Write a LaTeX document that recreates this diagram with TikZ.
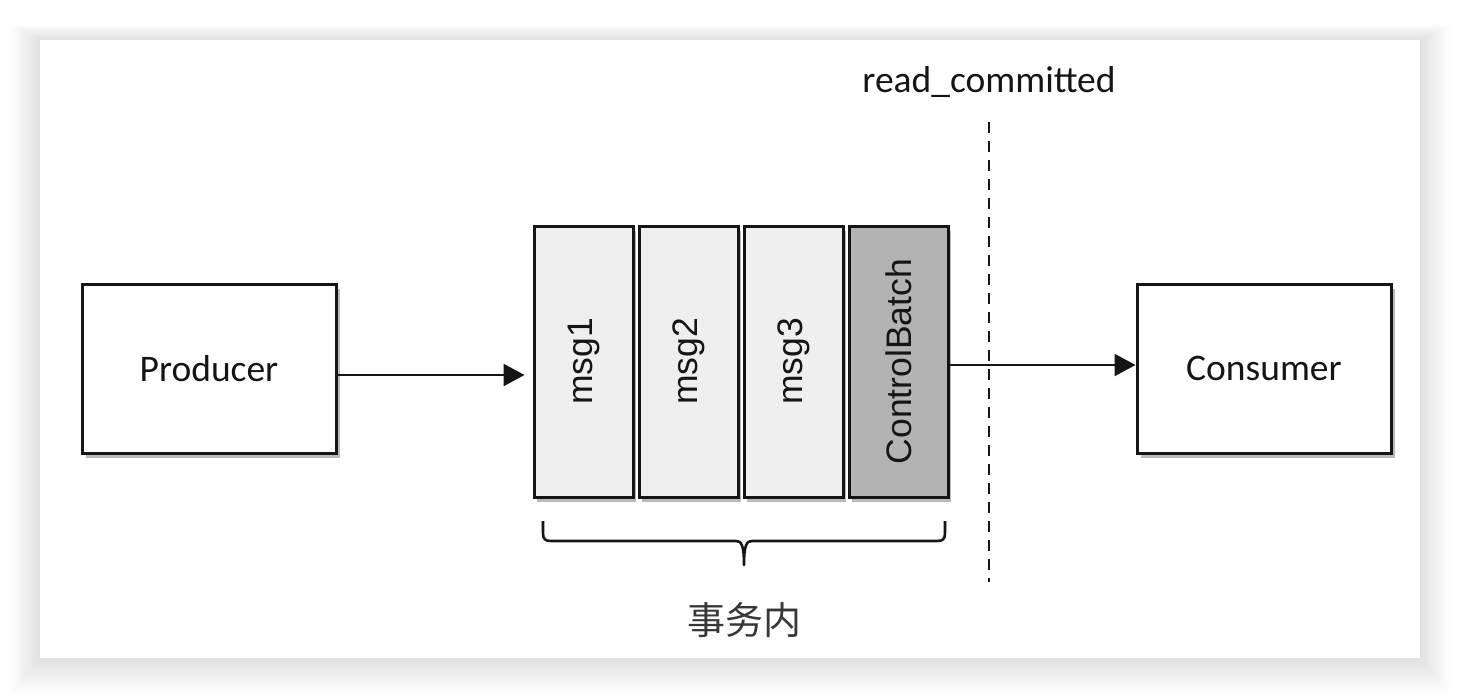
\documentclass[tikz,border=0pt]{standalone}
\usepackage{fontspec}
\newfontfamily\calfont{Carlito}
\newfontfamily\arialfont{Liberation Sans}
\newfontfamily\cjkfont{Noto Sans CJK SC}
\usetikzlibrary{arrows.meta,shadows}
\definecolor{ink}{HTML}{151515}
\definecolor{msgfill}{HTML}{EFEFEF}
\definecolor{cbfill}{HTML}{B3B3B3}
\tikzset{
  endbox/.style={draw=ink, line width=3pt, fill=white, minimum width=254pt, minimum height=169pt,
    inner sep=0pt, font=\calfont\fontsize{37.5}{42}\selectfont, text=ink,
    drop shadow={shadow xshift=4pt, shadow yshift=-5pt, fill=black!60, opacity=0.45}},
  msgbox/.style={draw=ink, line width=3pt, fill=msgfill, minimum width=99pt, minimum height=271pt,
    inner sep=0pt,
    drop shadow={shadow xshift=3pt, shadow yshift=-5pt, fill=black!60, opacity=0.45}},
  vtext/.style={rotate=90, font=\arialfont\fontsize{35.5}{40}\selectfont, text=ink, inner sep=0pt},
  arr/.style={draw=ink, line width=2.4pt, -{Triangle[length=21pt,width=22pt]}},
  lbl/.style={font=\calfont\fontsize{37.5}{42}\selectfont, text=ink, inner sep=0pt},
}
\begin{document}
\begin{tikzpicture}[x=1pt,y=-1pt]
\useasboundingbox (0,0) rectangle (1460,698);
\fill[white] (0,0) rectangle (1460,698);
% card shadow
\foreach \i in {1,...,30}{
  \fill[black, fill opacity=0.0045] (40-\i,40-0.5*\i) rectangle (1420+\i,658+1.2*\i);
}
\fill[white] (40,40) rectangle (1420,658);

% end boxes
\node[endbox] (prod) at (209,368.5) {Producer};
\node[endbox] (cons) at (1264,368.5) {Consumer};

% message boxes
\node[msgbox] (m1) at (583.5,361.5) {};
\node[msgbox] (m2) at (688.5,361.5) {};
\node[msgbox] (m3) at (793.5,361.5) {};
\node[msgbox, fill=cbfill] (cb) at (898.5,361.5) {};
\node[vtext] (t1) at (m1) {msg1};
\node[vtext] (t2) at (m2) {msg2};
\node[vtext] (t3) at (m3) {msg3};
\node[vtext] (t4) at (cb) {ControlBatch};

% arrows
\draw[arr, shorten >=8pt] ([yshift=-6.5pt]prod.east) -- ([yshift=-6.5pt]prod.east -| m1.west);
\draw[arr] ([yshift=-3.5pt]cb.east) -- ([yshift=-3.5pt]cb.east -| cons.west);

% read_committed line
\node[lbl] (rc) at (989,82) {read\_committed};
\coordinate (dtop) at (989,122);
\coordinate (dbot) at (989,582);
\draw[ink, line width=2.6pt, dash pattern=on 11pt off 8pt] (dtop) -- (dbot);

% brace
\coordinate (bl) at (543,521);
\coordinate (br) at (945,521);
\coordinate (btip) at (744,565);
\draw[ink, line width=2.6pt, line join=round]
  (bl) -- ++(0,12) .. controls +(0,6) and +(-6,0) .. ++(8,8)
  -- (736,541) .. controls (741,541) and (744,544) .. (btip)
  .. controls (744,544) and (747,541) .. (752,541)
  -- (937,541) .. controls (943,541) and (945,539) .. (945,533) -- (br);
\node[font=\cjkfont\fontsize{38}{42}\selectfont, text=ink!85, inner sep=0pt] (tx) at (744,620) {事务内};
\end{tikzpicture}
\end{document}
